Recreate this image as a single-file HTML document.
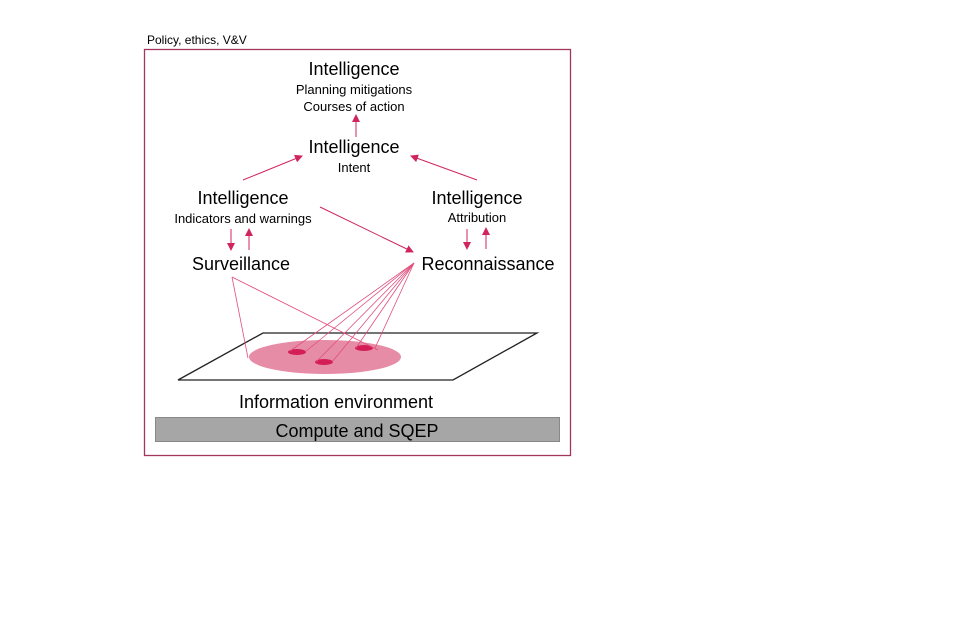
<!DOCTYPE html>
<html><head><meta charset="utf-8"><style>body{margin:0;background:#fff}svg{display:block}</style></head><body>
<svg width="960" height="640" viewBox="0 0 960 640" xmlns="http://www.w3.org/2000/svg" font-family="Liberation Sans, sans-serif" fill="#000">
<defs><marker id="a" markerWidth="8" markerHeight="8" refX="7" refY="4" orient="auto" markerUnits="userSpaceOnUse"><path d="M0,0 L8,4 L0,8 z" fill="#d0245c"/></marker></defs>
<text x="147" y="44" font-size="12">Policy, ethics, V&amp;V</text>
<rect x="144.5" y="49.5" width="426" height="406" fill="none" stroke="#a3365e" stroke-width="1.3"/>
<g text-anchor="middle">
<text x="354" y="75" font-size="18">Intelligence</text>
<text x="354" y="94" font-size="13">Planning mitigations</text>
<text x="354" y="111" font-size="13">Courses of action</text>
<text x="354" y="153" font-size="18">Intelligence</text>
<text x="354" y="172" font-size="13">Intent</text>
<text x="243" y="204" font-size="18">Intelligence</text>
<text x="243" y="223" font-size="13">Indicators and warnings</text>
<text x="477" y="204" font-size="18">Intelligence</text>
<text x="477" y="222" font-size="13">Attribution</text>
<text x="241" y="270" font-size="18">Surveillance</text>
<text x="488" y="270" font-size="18">Reconnaissance</text>
<text x="336" y="408" font-size="18">Information environment</text>
</g>
<g stroke="#d0245c" stroke-width="1" fill="none" marker-end="url(#a)">
<line x1="356" y1="137" x2="356" y2="115"/>
<line x1="243" y1="180" x2="302" y2="156"/>
<line x1="477" y1="180" x2="411" y2="156"/>
<line x1="320" y1="207" x2="413" y2="252"/>
<line x1="231" y1="229" x2="231" y2="250"/>
<line x1="249" y1="250" x2="249" y2="229"/>
<line x1="467" y1="229" x2="467" y2="249"/>
<line x1="486" y1="249" x2="486" y2="228"/>
</g>
<polygon points="263,333 537,333 453,380 178,380" fill="#fff" stroke="#222" stroke-width="1.3"/>
<ellipse cx="325" cy="357" rx="76" ry="17" fill="#e68ca6"/>
<ellipse cx="297" cy="352" rx="9" ry="3" fill="#d31e58"/>
<ellipse cx="324" cy="362" rx="9" ry="3" fill="#d31e58"/>
<ellipse cx="364" cy="348" rx="9" ry="3" fill="#d31e58"/>
<g stroke="#e0507e" stroke-width="0.8" fill="none">
<line x1="232" y1="277" x2="248" y2="358"/>
<line x1="232" y1="277" x2="378" y2="350"/>
<line x1="414" y1="263" x2="290" y2="351"/>
<line x1="414" y1="263" x2="305" y2="352"/>
<line x1="414" y1="263" x2="316" y2="362"/>
<line x1="414" y1="263" x2="332" y2="362"/>
<line x1="414" y1="263" x2="356" y2="348"/>
<line x1="414" y1="263" x2="375" y2="348"/>
</g>
<rect x="155.5" y="417.5" width="404" height="24" fill="#a6a6a6" stroke="#888"/>
<text x="357" y="437" font-size="18" text-anchor="middle">Compute and SQEP</text>
</svg>
</body></html>
